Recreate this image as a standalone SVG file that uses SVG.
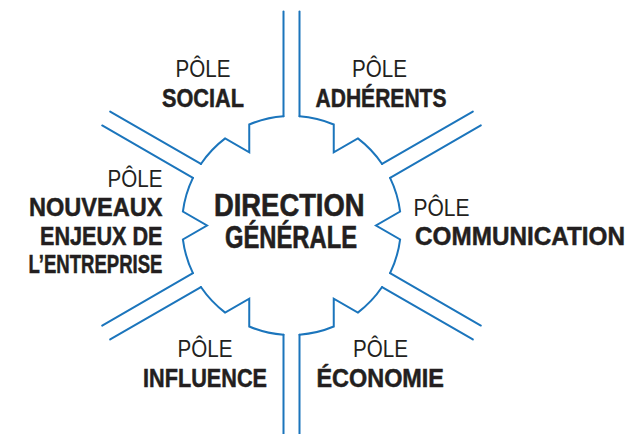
<svg xmlns="http://www.w3.org/2000/svg" width="643" height="434" viewBox="0 0 643 434">
<style>
  .ln { fill: none; stroke: #1b75bc; stroke-width: 2; stroke-linecap: round; stroke-linejoin: miter; }
  .pole { font-family: "Liberation Sans", Arial, sans-serif; font-size: 24.5px; font-weight: 400; fill: #231f20; }
  .lab { font-family: "Liberation Sans", Arial, sans-serif; font-size: 26.5px; font-weight: 700; fill: #231f20; stroke: #231f20; stroke-width: 0.5px; }
  .ctr { font-family: "Liberation Sans", Arial, sans-serif; font-size: 30.5px; font-weight: 700; fill: #231f20; stroke: #231f20; stroke-width: 0.6px; }
</style>
<rect width="643" height="434" fill="#ffffff"/>
<g id="direction-generale">
  <path class="ln" d="M299.5,116.29 A109.5,109.5 0 0 1 333.76,124.49 L333.75,152.32 L357.86,138.39 A109.5,109.5 0 0 1 382.08,163.96"/>
  <path class="ln" d="M390.08,177.82 A109.5,109.5 0 0 1 400.11,211.59 L376,225.5 L400.12,239.41 A109.5,109.5 0 0 1 390.08,273.17"/>
  <path class="ln" d="M382.08,287.04 A109.5,109.5 0 0 1 357.85,312.61 L333.74,298.68 L333.76,326.53 A109.5,109.5 0 0 1 299.5,334.71"/>
  <path class="ln" d="M283.5,334.71 A109.5,109.5 0 0 1 249.24,326.51 L249.25,298.68 L225.14,312.61 A109.5,109.5 0 0 1 200.92,287.04"/>
  <path class="ln" d="M192.92,273.18 A109.5,109.5 0 0 1 182.89,239.41 L207,225.5 L182.88,211.59 A109.5,109.5 0 0 1 192.92,177.83"/>
  <path class="ln" d="M200.92,163.96 A109.5,109.5 0 0 1 225.15,138.39 L249.26,152.32 L249.24,124.47 A109.5,109.5 0 0 1 283.5,116.29"/>
  <text class="ctr" x="214" y="215.5" textLength="150.5" lengthAdjust="spacingAndGlyphs">DIRECTION</text>
  <text class="ctr" x="225" y="247.5" textLength="132" lengthAdjust="spacingAndGlyphs">GÉNÉRALE</text>
</g>
<g id="connectors">
  <line class="ln" x1="283.5" y1="116.29" x2="283.5" y2="11.5"/>
  <line class="ln" x1="299.5" y1="116.29" x2="299.5" y2="11.5"/>
  <line class="ln" x1="382.08" y1="163.96" x2="472.83" y2="111.56"/>
  <line class="ln" x1="390.08" y1="177.82" x2="480.83" y2="125.42"/>
  <line class="ln" x1="390.08" y1="273.17" x2="480.83" y2="325.57"/>
  <line class="ln" x1="382.08" y1="287.04" x2="472.83" y2="339.44"/>
  <line class="ln" x1="299.5" y1="334.71" x2="299.5" y2="440"/>
  <line class="ln" x1="283.5" y1="334.71" x2="283.5" y2="440"/>
  <line class="ln" x1="200.92" y1="287.04" x2="110.17" y2="339.44"/>
  <line class="ln" x1="192.92" y1="273.18" x2="102.17" y2="325.58"/>
  <line class="ln" x1="192.92" y1="177.83" x2="102.17" y2="125.43"/>
  <line class="ln" x1="200.92" y1="163.96" x2="110.17" y2="111.56"/>
</g>
<g id="pole-social">
  <text class="pole" x="175.5" y="77" textLength="55" lengthAdjust="spacingAndGlyphs">PÔLE</text>
  <text class="lab" x="162" y="106.5" textLength="82" lengthAdjust="spacingAndGlyphs">SOCIAL</text>
</g>
<g id="pole-adherents">
  <text class="pole" x="352" y="77" textLength="55" lengthAdjust="spacingAndGlyphs">PÔLE</text>
  <text class="lab" x="315.5" y="106.5" textLength="131" lengthAdjust="spacingAndGlyphs">ADHÉRENTS</text>
</g>
<g id="pole-nouveaux-enjeux">
  <text class="pole" x="107.5" y="186.5" textLength="55" lengthAdjust="spacingAndGlyphs">PÔLE</text>
  <text class="lab" x="29" y="216" textLength="133.5" lengthAdjust="spacingAndGlyphs">NOUVEAUX</text>
  <text class="lab" x="40" y="244.5" textLength="122.5" lengthAdjust="spacingAndGlyphs">ENJEUX DE</text>
  <text class="lab" x="28.5" y="273" textLength="134" lengthAdjust="spacingAndGlyphs">L’ENTREPRISE</text>
</g>
<g id="pole-communication">
  <text class="pole" x="413.5" y="216" textLength="56" lengthAdjust="spacingAndGlyphs">PÔLE</text>
  <text class="lab" x="415" y="245" textLength="210" lengthAdjust="spacingAndGlyphs">COMMUNICATION</text>
</g>
<g id="pole-influence">
  <text class="pole" x="177.5" y="357" textLength="55" lengthAdjust="spacingAndGlyphs">PÔLE</text>
  <text class="lab" x="143" y="387" textLength="124" lengthAdjust="spacingAndGlyphs">INFLUENCE</text>
</g>
<g id="pole-economie">
  <text class="pole" x="353" y="357" textLength="55" lengthAdjust="spacingAndGlyphs">PÔLE</text>
  <text class="lab" x="316.5" y="387" textLength="127.5" lengthAdjust="spacingAndGlyphs">ÉCONOMIE</text>
</g>
</svg>
